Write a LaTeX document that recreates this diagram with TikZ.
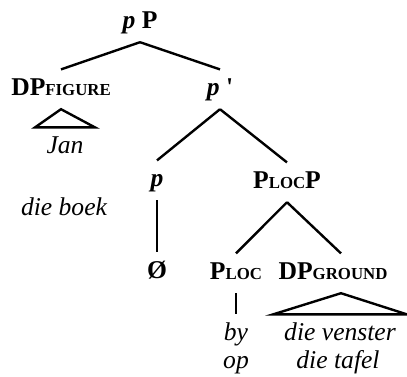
\documentclass[tikz,border=0pt]{standalone}
\usepackage{fontspec}
\setmainfont{Liberation Serif}
\newcommand{\subcat}[1]{{\fontsize{8.4}{10}\selectfont #1}}
\begin{document}
\begin{tikzpicture}[x=0.5pt,y=-0.5pt,line width=1.2pt,
  cat/.style={inner sep=0pt,text height=12.2pt,text depth=6.5pt,anchor=base,
    font=\fontsize{12.8}{15}\selectfont\bfseries},
  word/.style={cat,font=\fontsize{12.8}{15}\selectfont\itshape}]
  \useasboundingbox (0,0) rectangle (407,376);

  % top of the tree
  \node[cat] (pP) at (140,28) {\textit{p} P};
  \node[cat] (DPfig) at (61,95) {DP\subcat{FIGURE}};
  \node[cat] (pbar) at (220,95) {\textit{p} \textquotesingle};
  \draw (pP.south) -- (DPfig.north);
  \draw (pP.south) -- (pbar.north);

  % figure and its triangle
  \node[word] (Jan) at (65,153) {Jan};
  \node[word] (boek) at (64,215) {die boek};
  \draw (DPfig.south) -- ([xshift=-15pt]Jan.north) -- ([xshift=15pt]Jan.north) -- cycle;

  % p' branches
  \node[cat] (p) at (157,186) {\textit{p}};
  \node[cat] (PlocP) at (287,188) {P\subcat{LOC}P};
  \draw (pbar.south) -- (p.north);
  \draw (pbar.south) -- (PlocP.north);

  % lower level
  \node[cat] (null) at (157,278) {Ø};
  \node[cat] (Ploc) at (236,279) {P\subcat{LOC}};
  \node[cat] (DPgr) at (333,279) {DP\subcat{GROUND}};
  \draw (p.south) -- (null.north);
  \draw (PlocP.south) -- (Ploc.north);
  \draw (PlocP.south) -- ([xshift=4pt]DPgr.north);

  % words at the bottom
  \node[word] (by) at (236,340) {by};
  \node[word] (op) at (236,368) {op};
  \node[word] (venster) at (340,340) {die venster};
  \node[word] (tafel) at (338,368) {die tafel};
  \draw (Ploc.south) -- (by.north);
  \draw ([xshift=4pt]DPgr.south) -- ([xshift=-33.5pt]venster.north)
    -- ([xshift=33.5pt]venster.north) -- cycle;
\end{tikzpicture}
\end{document}
